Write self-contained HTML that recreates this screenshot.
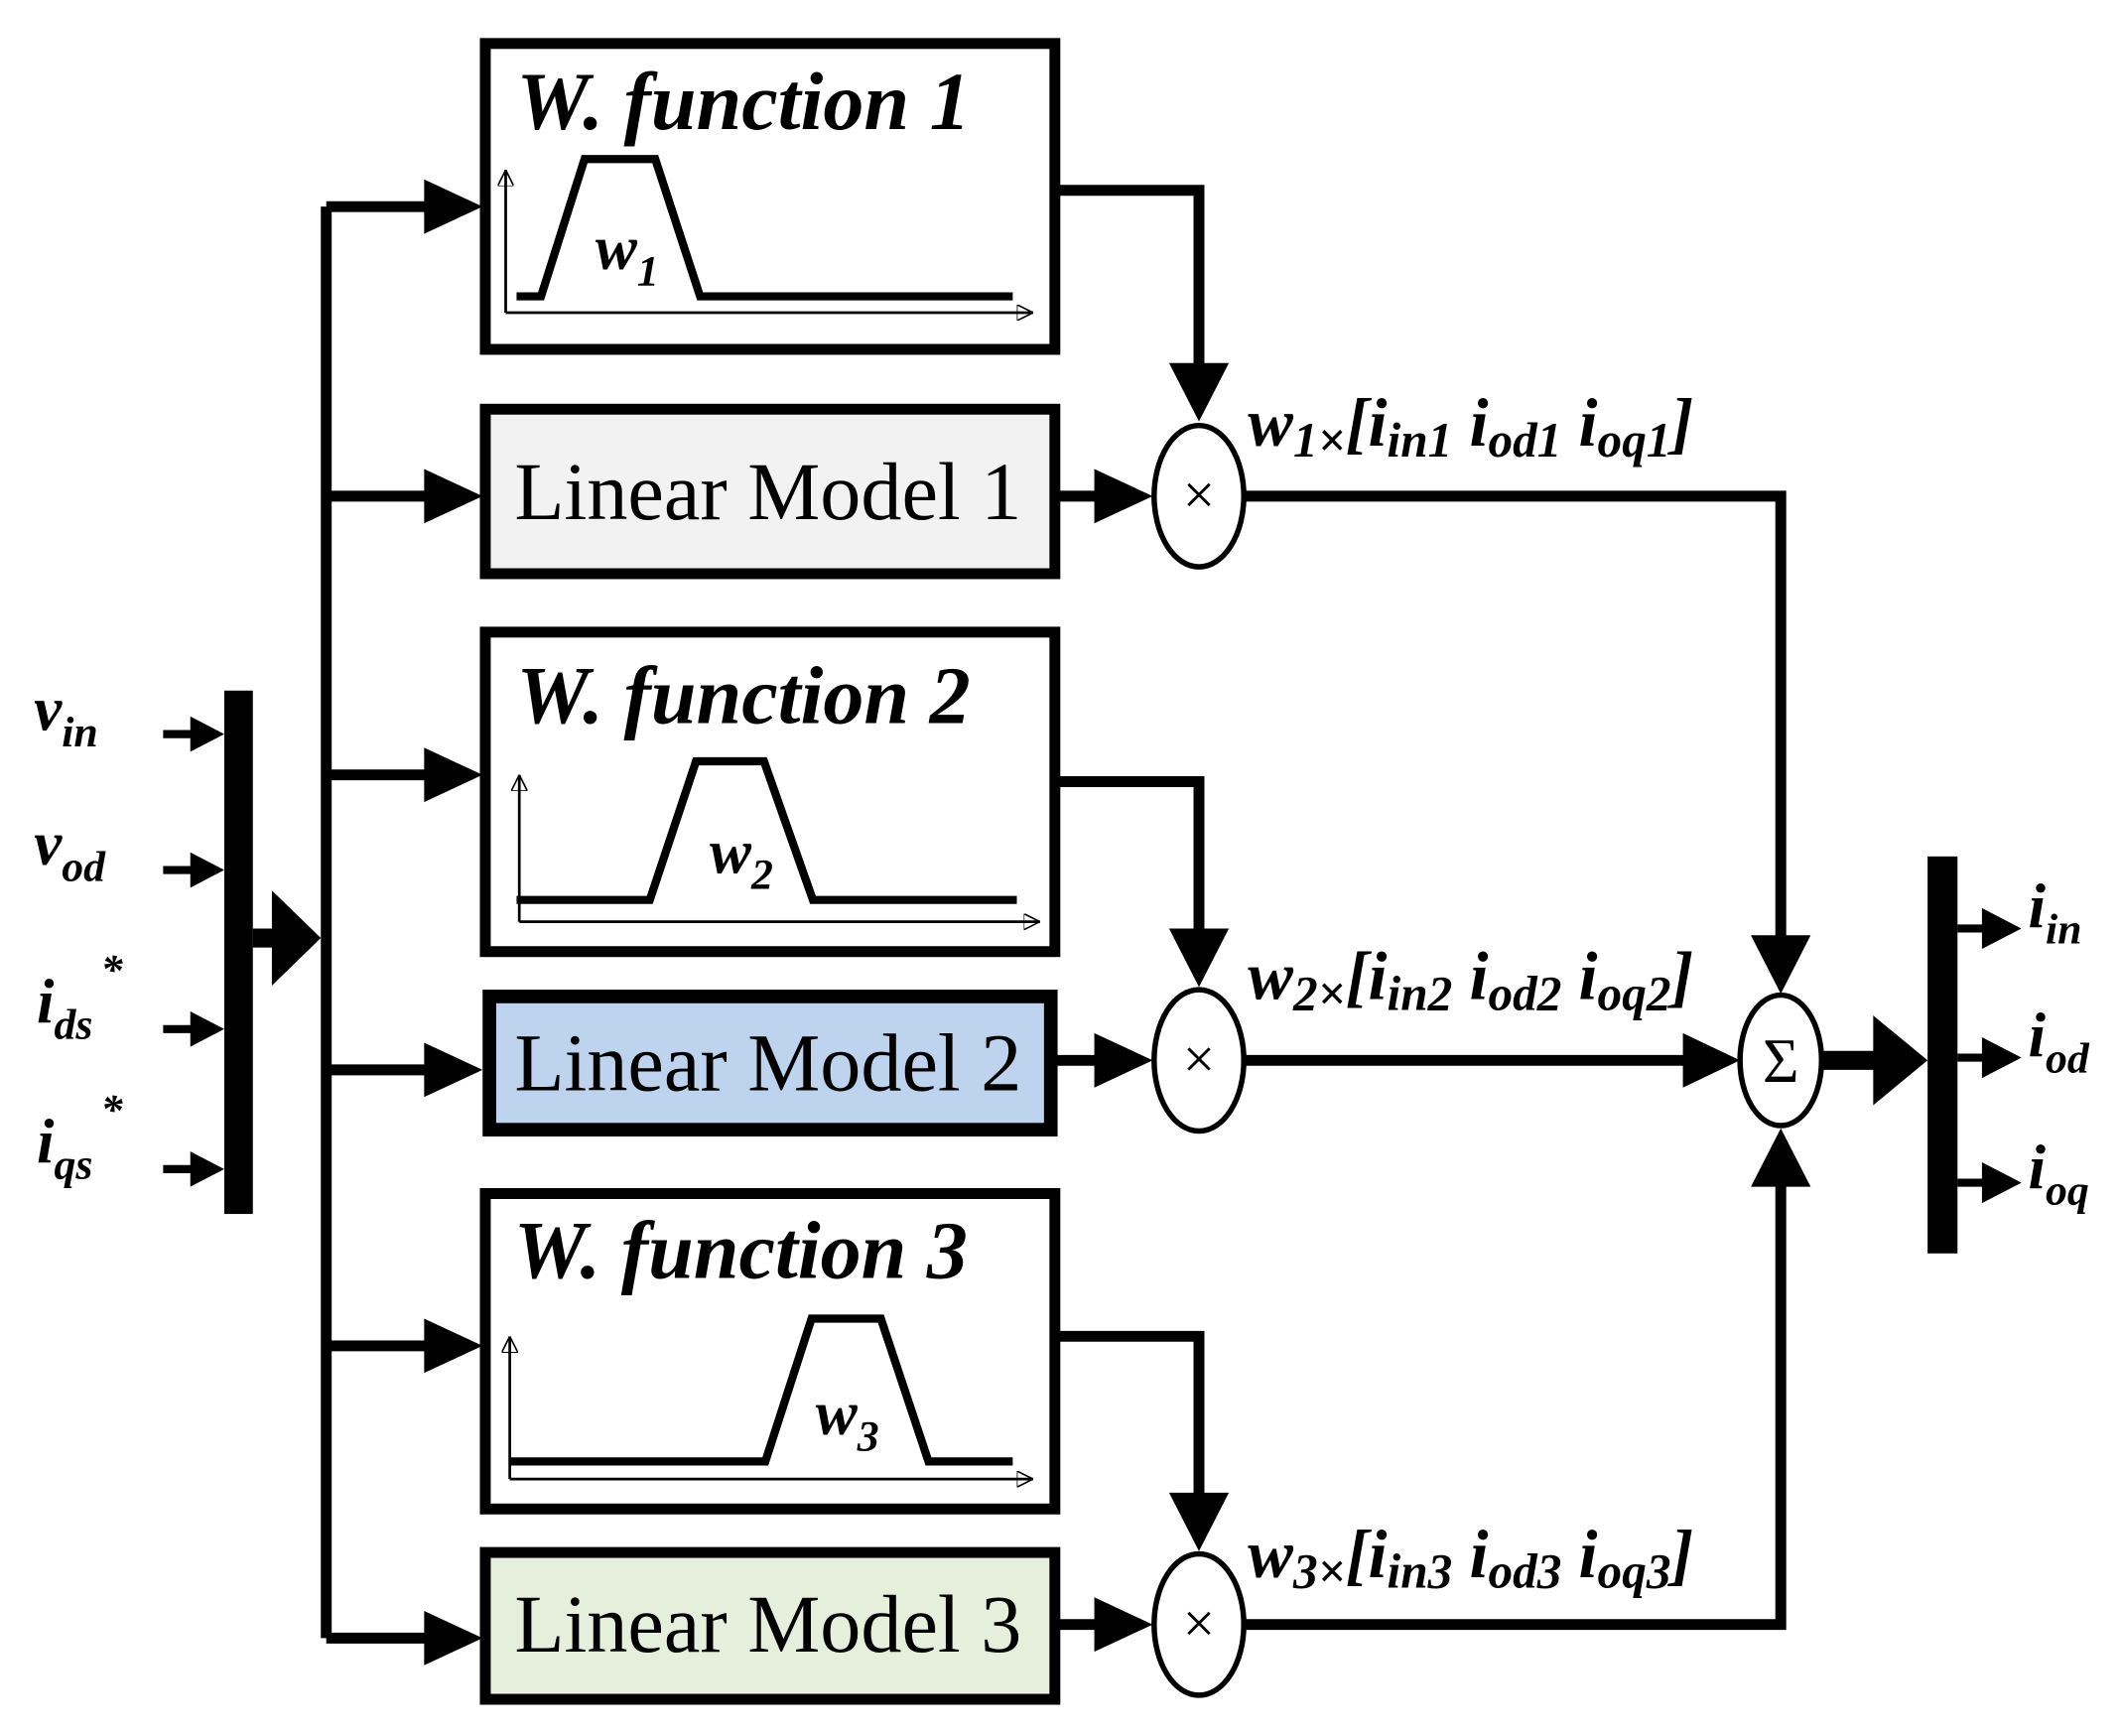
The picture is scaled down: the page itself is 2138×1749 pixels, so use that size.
<!DOCTYPE html>
<html><head><meta charset="utf-8"><style>
html,body{margin:0;padding:0;background:#fff;}
svg{display:block;}
text{font-family:"Liberation Serif",serif;fill:#000;}
.t{font-weight:bold;font-style:italic;font-size:60px;}
.lm{font-size:60px;}
.v{font-weight:bold;font-style:italic;font-size:46px;}
.s{font-size:32px;}
.p{font-weight:bold;font-style:italic;font-size:50px;}
.ps{font-size:36px;}
</style></head><body>
<svg width="2138" height="1749" viewBox="0 0 1561 1277" xmlns="http://www.w3.org/2000/svg">
<defs>
<marker id="sa" viewBox="0 0 10 10" refX="10" refY="5" markerWidth="12" markerHeight="12" markerUnits="userSpaceOnUse" orient="auto"><path d="M0,0L10,5L0,10z" fill="none" stroke="#000" stroke-width="1"/></marker>
</defs>
<g fill="none" stroke="#000" stroke-width="8">
<rect x="357" y="32" width="419" height="225" fill="#fff"/>
<rect x="357" y="301" width="419" height="121" fill="#f2f2f2"/>
<rect x="357" y="465" width="419" height="235" fill="#fff"/>
<rect x="360" y="733" width="413" height="98" fill="#bdd3ee" stroke-width="10"/>
<rect x="357" y="878" width="419" height="232" fill="#fff"/>
<rect x="357" y="1142" width="419" height="108" fill="#e6efdb"/>
<path d="M240 152V1205"/>
<path d="M240 152H315M240 365H315M240 570H315M240 787H315M240 990H315M240 1205H315"/>
<path d="M120 540H145M120 640H145M120 757H145M120 860H145" stroke-width="6"/>
<path d="M186 690H205" stroke-width="14"/>
<path d="M776 140H882V270"/>
<path d="M776 575H882V690"/>
<path d="M776 983H882V1105"/>
<path d="M776 365H810M776 780H810M776 1195H810"/>
<path d="M915 365H1310V690"/>
<path d="M915 780H1245"/>
<path d="M915 1195H1310V870"/>
<path d="M1340 780H1385" stroke-width="14"/>
<path d="M1440 683H1465M1440 778H1465M1440 870H1465" stroke-width="6"/>
<path d="M380 218H398L430 117H482L515 218H745" stroke-width="6"/>
<path d="M380 662H478L512 560H562L598 662H748" stroke-width="6"/>
<path d="M375 1075H563L597 970H648L683 1075H745" stroke-width="6"/>
</g>
<g fill="#000">
<!-- arrows into boxes -->
<path d="M312 132L355 152L312 172z"/>
<path d="M312 345L355 365L312 385z"/>
<path d="M312 550L355 570L312 590z"/>
<path d="M312 767L355 787L312 807z"/>
<path d="M312 970L355 990L312 1010z"/>
<path d="M312 1185L355 1205L312 1225z"/>
<!-- inputs -->
<path d="M140 527L165 540L140 553z"/>
<path d="M140 627L165 640L140 653z"/>
<path d="M140 744L165 757L140 770z"/>
<path d="M140 847L165 860L140 873z"/>
<path d="M200 655L236 690L200 725z"/>
<!-- down arrows -->
<path d="M860 267L882 310L904 267z"/>
<path d="M860 683L882 726L904 683z"/>
<path d="M860 1098L882 1141L904 1098z"/>
<!-- LM to mult -->
<path d="M805 345L848 365L805 385z"/>
<path d="M805 760L848 780L805 800z"/>
<path d="M805 1175L848 1195L805 1215z"/>
<!-- to sum -->
<path d="M1288 688L1310 731L1332 688z"/>
<path d="M1238 760L1280 780L1238 800z"/>
<path d="M1288 873L1310 830L1332 873z"/>
<path d="M1378 747L1418 780L1378 813z"/>
<!-- outputs -->
<path d="M1458 668L1487 683L1458 698z"/>
<path d="M1458 763L1487 778L1458 793z"/>
<path d="M1458 855L1487 870L1458 885z"/>
</g>
<rect x="165" y="508" width="21" height="385"/>
<rect x="1418" y="630" width="22" height="292"/>
<g fill="none" stroke="#000" stroke-width="2">
<path d="M372 230V125" marker-end="url(#sa)"/><path d="M372 230H760" marker-end="url(#sa)"/>
<path d="M382 678V570" marker-end="url(#sa)"/><path d="M382 678H765" marker-end="url(#sa)"/>
<path d="M375 1088V983" marker-end="url(#sa)"/><path d="M375 1088H760" marker-end="url(#sa)"/>
</g>
<g fill="#fff" stroke="#000" stroke-width="4">
<ellipse cx="882" cy="365" rx="33" ry="52"/>
<ellipse cx="882" cy="780" rx="33" ry="52"/>
<ellipse cx="882" cy="1195" rx="33" ry="52"/>
<ellipse cx="1310" cy="780" rx="30" ry="48"/>
</g>
<g font-size="42" text-anchor="middle">
<text x="882" y="378">×</text><text x="882" y="793">×</text><text x="882" y="1208">×</text>
<text x="1310" y="796" font-size="46">Σ</text>
</g>
<text class="t" x="380" y="95">W. function 1</text>
<text class="t" x="380" y="532">W. function 2</text>
<text class="t" x="378" y="940">W. function 3</text>
<text class="lm" x="565" y="382" text-anchor="middle">Linear Model 1</text>
<text class="lm" x="565" y="802" text-anchor="middle">Linear Model 2</text>
<text class="lm" x="565" y="1215" text-anchor="middle">Linear Model 3</text>
<text class="v" x="438" y="198">w<tspan class="s" dy="12">1</tspan></text>
<text class="v" x="522" y="642">w<tspan class="s" dy="12">2</tspan></text>
<text class="v" x="600" y="1055">w<tspan class="s" dy="12">3</tspan></text>
<text class="v" x="25" y="537">v<tspan class="s" dy="12">in</tspan></text>
<text class="v" x="25" y="636">v<tspan class="s" dy="12">od</tspan></text>
<text class="v" x="27" y="752">i<tspan class="s" dy="12">ds</tspan><tspan class="s" dy="-40" dx="6">*</tspan></text>
<text class="v" x="27" y="855">i<tspan class="s" dy="12">qs</tspan><tspan class="s" dy="-40" dx="6">*</tspan></text>
<text class="v" x="1492" y="682">i<tspan class="s" dy="12">in</tspan></text>
<text class="v" x="1492" y="777">i<tspan class="s" dy="12">od</tspan></text>
<text class="v" x="1492" y="874">i<tspan class="s" dy="12">oq</tspan></text>
<text class="p" x="918" y="328">w<tspan class="ps" dy="8">1×</tspan><tspan dy="-8">[i</tspan><tspan class="ps" dy="8">in1</tspan><tspan dy="-8"> i</tspan><tspan class="ps" dy="8">od1</tspan><tspan dy="-8"> i</tspan><tspan class="ps" dy="8">oq1</tspan><tspan dy="-8">]</tspan></text>
<text class="p" x="918" y="735">w<tspan class="ps" dy="8">2×</tspan><tspan dy="-8">[i</tspan><tspan class="ps" dy="8">in2</tspan><tspan dy="-8"> i</tspan><tspan class="ps" dy="8">od2</tspan><tspan dy="-8"> i</tspan><tspan class="ps" dy="8">oq2</tspan><tspan dy="-8">]</tspan></text>
<text class="p" x="918" y="1160">w<tspan class="ps" dy="8">3×</tspan><tspan dy="-8">[i</tspan><tspan class="ps" dy="8">in3</tspan><tspan dy="-8"> i</tspan><tspan class="ps" dy="8">od3</tspan><tspan dy="-8"> i</tspan><tspan class="ps" dy="8">oq3</tspan><tspan dy="-8">]</tspan></text>
</svg>
</body></html>
